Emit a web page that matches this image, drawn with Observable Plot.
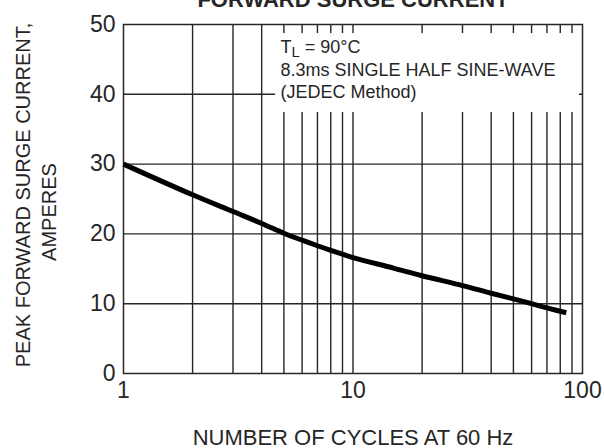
<!DOCTYPE html>
<html>
<head>
<meta charset="utf-8">
<script src="https://cdn.jsdelivr.net/npm/d3@7"></script>
<script src="https://cdn.jsdelivr.net/npm/@observablehq/plot@0.6"></script>
<style>
  html, body { margin: 0; padding: 0; background: #fff; }
  #chart svg { display: block; overflow: visible; }
</style>
</head>
<body>
<div id="chart"></div>
<script>
// Data
const cycles = [1, 2, 3, 4, 5, 6, 7, 8, 9, 10, 15, 20, 30, 40, 50, 60, 70, 85];
const amps   = [30, 25.6, 23.2, 21.5, 20.1, 19.1, 18.3, 17.65, 17.1, 16.6, 15.1, 14.0, 12.6, 11.5, 10.7, 10.0, 9.4, 8.7];

// Axis ticks / grid
const xTicks = [1, 10, 100];
const yTicks = [0, 10, 20, 30, 40, 50];
const xGrid = [2, 3, 4, 5, 6, 7, 8, 9, 10, 20, 30, 40, 50, 60, 70, 80, 90];
const yGrid = [10, 20, 30, 40];

// Annotation box (white area that hides the grid behind the note)
const noteBoxX = [4.6, 97];
const noteBoxY = [37.4, 48.7];
const noteLines = ["TL = 90°C", "8.3ms SINGLE HALF SINE-WAVE", "(JEDEC Method)"];
const noteX = [4.83, 4.83, 4.83];
const noteY = [46.8, 43.4, 40.3];

const titleText = "FORWARD SURGE CURRENT";
const xTitle = "NUMBER OF CYCLES AT 60 Hz";
const yTitle1 = "PEAK FORWARD SURGE CURRENT,";
const yTitle2 = "AMPERES";

const data = cycles.map((c, i) => ({ c, a: amps[i] }));
const box = [{ x1: noteBoxX[0], x2: noteBoxX[1], y1: noteBoxY[0], y2: noteBoxY[1] }];
const notes = noteLines.map((t, i) => ({ t, x: noteX[i], y: noteY[i] }));

const ink = "#262626";
const font = "'Liberation Sans', Arial, Helvetica, sans-serif";

const chart = Plot.plot({
  width: 604,
  height: 448,
  marginTop: 24,
  marginLeft: 123,
  marginRight: 22,
  marginBottom: 75,
  style: { fontFamily: font, color: ink, background: "#fff", overflow: "visible" },
  x: { type: "log", domain: [1, 100] },
  y: { domain: [0, 50] },
  marks: [
    Plot.ruleX(xGrid, { stroke: ink, strokeWidth: 1.4 }),
    Plot.ruleY(yGrid, { stroke: ink, strokeWidth: 1.4 }),
    Plot.rect(box, { x1: "x1", x2: "x2", y1: "y1", y2: "y2", fill: "#fff" }),
    Plot.frame({ stroke: ink, strokeWidth: 1.5 }),
    Plot.axisX(xTicks, { tickSize: 0, tickPadding: 8, fontSize: 23, tickFormat: d => String(d), label: null, fill: ink }),
    Plot.axisY(yTicks, { tickSize: 0, tickPadding: 8, fontSize: 23, label: null, fill: ink }),
    Plot.line(data, { x: "c", y: "a", stroke: "#000", strokeWidth: 5, curve: "catmull-rom", strokeLinecap: "butt" }),
    Plot.text(notes, { x: "x", y: "y", text: "t", textAnchor: "start", lineAnchor: "middle", fontSize: 18, fill: ink }),
    Plot.text([titleText], { text: d => d, frameAnchor: "top", lineAnchor: "bottom", dy: -18, fontSize: 22, fontWeight: "bold", fill: ink }),
    Plot.text([xTitle], { text: d => d, frameAnchor: "bottom", lineAnchor: "bottom", dy: 71, fontSize: 22, fill: ink }),
    Plot.text([yTitle1], { text: d => d, frameAnchor: "left", textAnchor: "middle", rotate: -90, dx: -100, dy: -4, fontSize: 20, fill: ink }),
    Plot.text([yTitle2], { text: d => d, frameAnchor: "left", textAnchor: "middle", rotate: -90, dx: -74, dy: 13, fontSize: 20, fill: ink })
  ]
});

document.getElementById("chart").appendChild(chart);

// make the "L" of TL a subscript
d3.select(chart).selectAll("text").each(function () {
  if (this.textContent === noteLines[0]) {
    const g = d3.select(this);
    g.text(null);
    g.append("tspan").text("T");
    g.append("tspan").attr("dy", 4).attr("font-size", 15).text("L");
    g.append("tspan").attr("dy", -4).text(" = 90°C");
  }
});
</script>
</body>
</html>
